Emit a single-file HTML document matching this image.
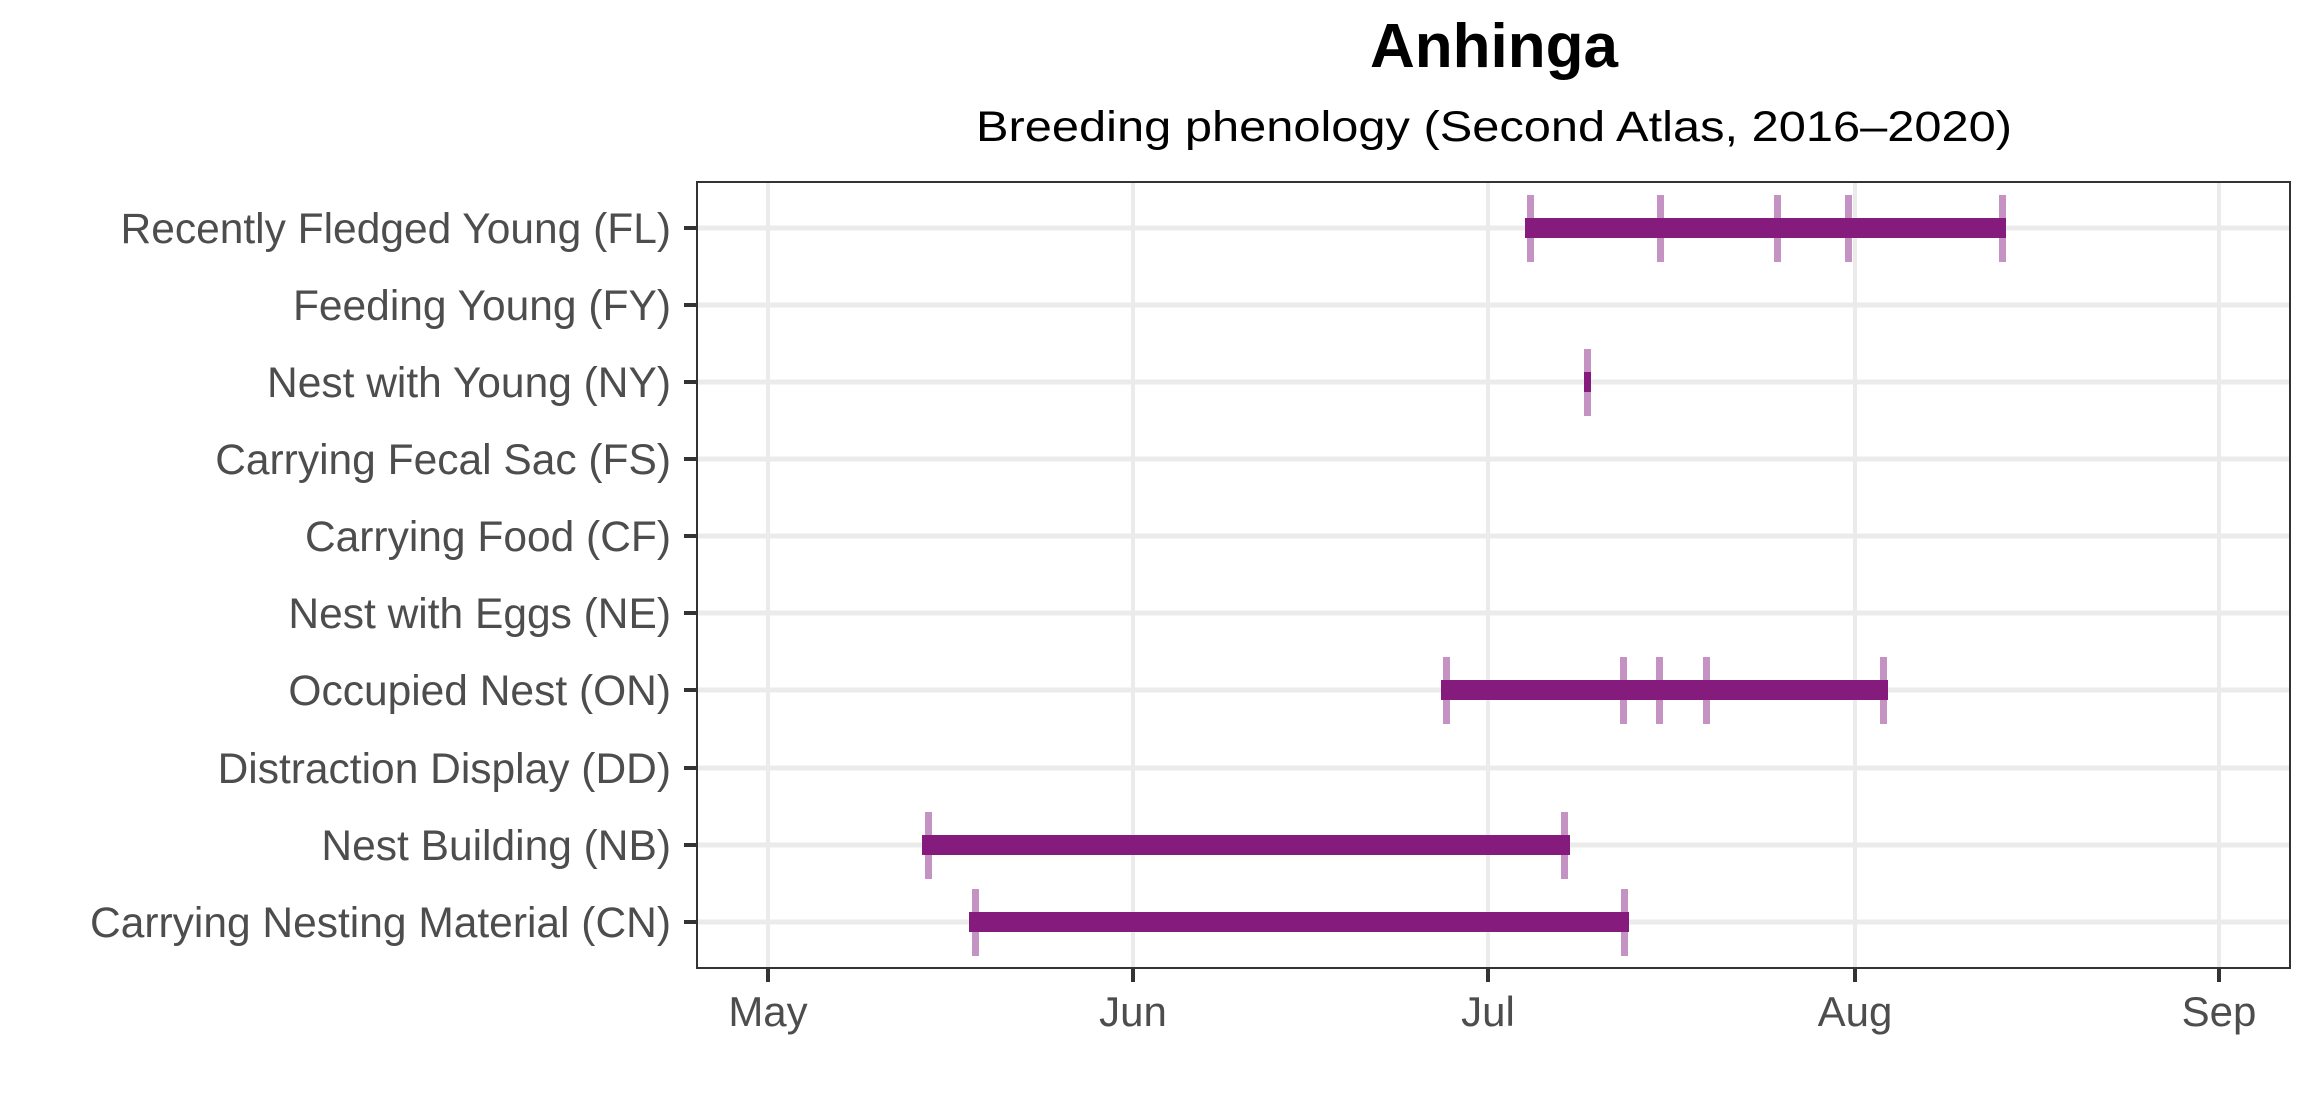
<!DOCTYPE html>
<html><head><meta charset="utf-8"><style>html,body{margin:0;padding:0;background:#fff}svg{display:block}</style></head>
<body>
<svg width="2320" height="1120" viewBox="0 0 2320 1120" xmlns="http://www.w3.org/2000/svg" font-family="Liberation Sans, Arial, sans-serif">
<rect width="2320" height="1120" fill="#fff"/>
<text x="1494" y="67" text-anchor="middle" font-weight="bold" font-size="62" fill="#000">Anhinga</text>
<text x="1494" y="141" text-anchor="middle" font-size="43" fill="#000" textLength="1036" lengthAdjust="spacingAndGlyphs">Breeding phenology (Second Atlas, 2016–2020)</text>
<g stroke="#ebebeb" stroke-width="4">
<line x1="768" y1="182" x2="768" y2="968"/><line x1="1133" y1="182" x2="1133" y2="968"/><line x1="1488" y1="182" x2="1488" y2="968"/><line x1="1855" y1="182" x2="1855" y2="968"/><line x1="2219" y1="182" x2="2219" y2="968"/>
<g stroke-width="5">
<line x1="697" y1="228" x2="2290" y2="228"/><line x1="697" y1="305" x2="2290" y2="305"/><line x1="697" y1="382" x2="2290" y2="382"/><line x1="697" y1="459" x2="2290" y2="459"/><line x1="697" y1="536" x2="2290" y2="536"/><line x1="697" y1="613" x2="2290" y2="613"/><line x1="697" y1="690" x2="2290" y2="690"/><line x1="697" y1="768" x2="2290" y2="768"/><line x1="697" y1="845" x2="2290" y2="845"/><line x1="697" y1="922" x2="2290" y2="922"/>
</g></g>
<g fill="#c493c4">
<rect x="1527" y="195" width="7" height="67"/><rect x="1657" y="195" width="7" height="67"/><rect x="1774" y="195" width="7" height="67"/><rect x="1845" y="195" width="7" height="67"/><rect x="1999" y="195" width="7" height="67"/>
<rect x="1584" y="349" width="7" height="67"/>
<rect x="1443" y="657" width="7" height="67"/><rect x="1620" y="657" width="7" height="67"/><rect x="1656" y="657" width="7" height="67"/><rect x="1703" y="657" width="7" height="67"/><rect x="1880" y="657" width="7" height="67"/>
<rect x="925" y="812" width="7" height="67"/><rect x="1561" y="812" width="7" height="67"/>
<rect x="972" y="889" width="7" height="67"/><rect x="1621" y="889" width="7" height="67"/>
</g>
<g fill="#851b7d">
<rect x="1525" y="218" width="481" height="20"/>
<rect x="1584" y="372" width="7" height="20"/>
<rect x="1441" y="680" width="447" height="20"/>
<rect x="922" y="835" width="648" height="20"/>
<rect x="969" y="912" width="660" height="20"/>
</g>
<rect x="697" y="182" width="1593" height="786" fill="none" stroke="#333" stroke-width="2"/>
<g stroke="#333" stroke-width="4">
<line x1="684" y1="228" x2="697" y2="228"/><line x1="684" y1="305" x2="697" y2="305"/><line x1="684" y1="382" x2="697" y2="382"/><line x1="684" y1="459" x2="697" y2="459"/><line x1="684" y1="536" x2="697" y2="536"/><line x1="684" y1="613" x2="697" y2="613"/><line x1="684" y1="690" x2="697" y2="690"/><line x1="684" y1="768" x2="697" y2="768"/><line x1="684" y1="845" x2="697" y2="845"/><line x1="684" y1="922" x2="697" y2="922"/>
<line x1="768" y1="968" x2="768" y2="982"/><line x1="1133" y1="968" x2="1133" y2="982"/><line x1="1488" y1="968" x2="1488" y2="982"/><line x1="1855" y1="968" x2="1855" y2="982"/><line x1="2219" y1="968" x2="2219" y2="982"/>
</g>
<g font-size="42.5" fill="#4d4d4d" text-anchor="end">
<text x="671" y="243">Recently Fledged Young (FL)</text>
<text x="671" y="320">Feeding Young (FY)</text>
<text x="671" y="397">Nest with Young (NY)</text>
<text x="671" y="474">Carrying Fecal Sac (FS)</text>
<text x="671" y="551">Carrying Food (CF)</text>
<text x="671" y="628">Nest with Eggs (NE)</text>
<text x="671" y="705">Occupied Nest (ON)</text>
<text x="671" y="783">Distraction Display (DD)</text>
<text x="671" y="860">Nest Building (NB)</text>
<text x="671" y="937">Carrying Nesting Material (CN)</text>
</g>
<g font-size="42" fill="#4d4d4d" text-anchor="middle">
<text x="768" y="1026">May</text><text x="1133" y="1026">Jun</text><text x="1488" y="1026">Jul</text><text x="1855" y="1026">Aug</text><text x="2219" y="1026">Sep</text>
</g>
</svg>
</body></html>
